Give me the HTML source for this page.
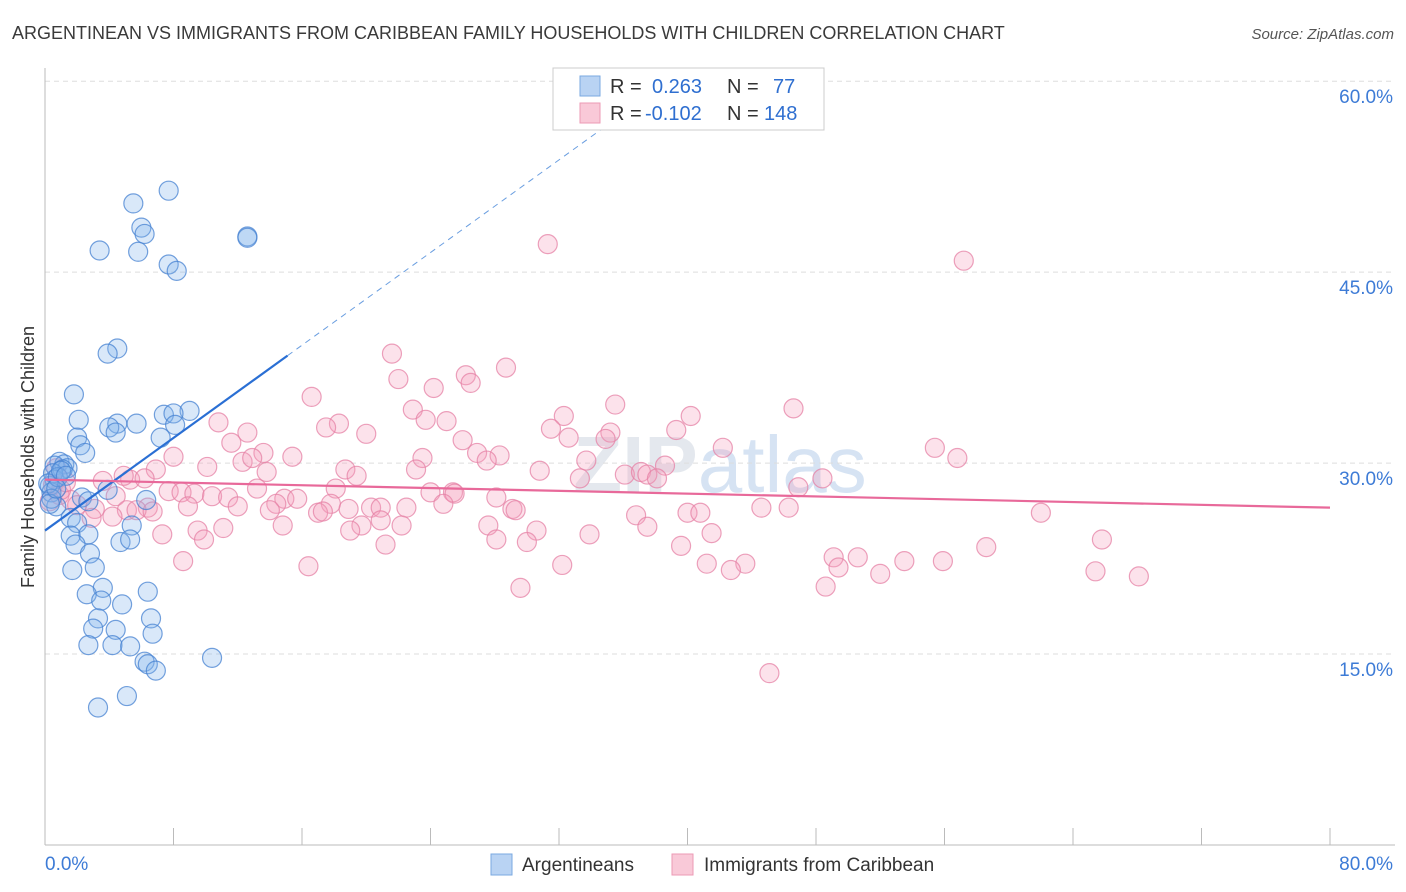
<!DOCTYPE html>
<html><head><meta charset="utf-8">
<style>
body{margin:0;background:#fff;font-family:"Liberation Sans",sans-serif;}
svg{display:block}
</style></head>
<body>
<svg id="chart" width="1406" height="892" xmlns="http://www.w3.org/2000/svg" font-family="Liberation Sans, sans-serif">
<text x="12" y="39" font-size="18" fill="#3a3a3a">ARGENTINEAN VS IMMIGRANTS FROM CARIBBEAN FAMILY HOUSEHOLDS WITH CHILDREN CORRELATION CHART</text>
<text x="1394" y="39" font-size="15" font-style="italic" fill="#555" text-anchor="end">Source: ZipAtlas.com</text>
<text x="720" y="492" font-size="80" fill="#e4e8ee" text-anchor="middle" font-weight="bold">ZIP<tspan fill="#d6e3f3" font-weight="normal">atlas</tspan></text>
<g id="grid"></g>
<g id="axes"></g>
<g id="pts"></g>
<g id="trends"></g>
<text transform="translate(34,457) rotate(-90)" font-size="18" fill="#333" text-anchor="middle">Family Households with Children</text>
<g>
<rect x="553" y="68" width="271" height="62" fill="#fff" stroke="#ccc"/>
<rect x="580" y="76" width="20" height="20" fill="#b9d3f3" stroke="#7aa8e0"/>
<rect x="580" y="103" width="20" height="20" fill="#f9c9d8" stroke="#ec9ab5"/>
<text x="610" y="93" font-size="20" fill="#333">R = <tspan fill="#2f6fd0" x="652">0.263</tspan><tspan x="727" fill="#333">N =</tspan><tspan x="773" fill="#2f6fd0">77</tspan></text>
<text x="610" y="120" font-size="20" fill="#333">R = <tspan fill="#2f6fd0" x="645">-0.102</tspan><tspan x="727" fill="#333">N =</tspan><tspan x="764" fill="#2f6fd0">148</tspan></text>
</g>
<g>
<rect x="491" y="854" width="21" height="21" fill="#b9d3f3" stroke="#7aa8e0"/>
<text x="522" y="871" font-size="19" fill="#333">Argentineans</text>
<rect x="672" y="854" width="21" height="21" fill="#f9c9d8" stroke="#ec9ab5"/>
<text x="704" y="871" font-size="19" fill="#333">Immigrants from Caribbean</text>
</g>
</svg>
<script>
const yTicks=[15,30,45,60];
const yTickLabels=["15.0%","30.0%","45.0%","60.0%"];
const xTickLabels=["0.0%","80.0%"];
const blueX=[7.7,5.5,6.0,6.2,12.6,12.6,3.4,5.8,7.7,8.2,4.5,3.9,1.8,9.0,7.4,8.0,2.1,4.5,5.7,4.0,8.1,4.4,2.0,7.2,2.2,2.5,0.9,1.2,0.6,1.4,1.1,0.6,0.3,0.4,3.9,2.3,2.7,6.3,0.7,1.6,2.0,5.4,1.6,2.7,1.9,4.7,5.3,2.8,3.1,1.7,3.6,2.6,6.4,3.5,4.8,3.3,6.6,3.0,4.4,6.7,2.7,4.2,5.3,10.4,6.2,6.4,6.9,5.1,3.3,0.5,0.2,0.8,1.0,0.4,0.3,1.3,0.7];
const blueY=[51.4,50.4,48.5,48.0,47.8,47.7,46.7,46.6,45.6,45.1,39.0,38.6,35.4,34.1,33.8,33.9,33.4,33.1,33.1,32.8,33.0,32.4,32.0,32.0,31.4,30.8,30.1,29.9,29.8,29.6,29.5,28.7,28.2,27.7,27.9,27.3,27.0,27.1,26.6,25.7,25.3,25.1,24.3,24.4,23.6,23.8,24.0,22.9,21.8,21.6,20.2,19.7,19.9,19.2,18.9,17.8,17.8,17.0,16.9,16.6,15.7,15.7,15.6,14.7,14.4,14.2,13.7,11.7,10.8,29.2,28.4,28.9,29.4,27.2,26.8,29.0,28.0];
const pinkX=[31.3,57.2,21.6,28.7,22.0,26.2,26.5,24.2,16.6,22.9,35.5,46.6,32.3,40.2,23.7,25.0,10.8,18.3,17.5,31.5,12.6,20.0,39.3,35.2,32.6,34.9,26.0,11.6,42.2,55.4,26.9,13.6,8.0,15.4,28.3,23.5,27.5,56.8,12.3,12.9,33.7,10.1,18.7,23.1,30.8,38.6,6.9,13.8,19.4,36.1,37.1,37.5,38.1,48.4,3.6,5.3,6.2,4.9,33.3,46.9,13.2,18.1,7.7,8.5,4.4,9.3,10.4,11.4,14.9,15.7,24.0,25.4,25.5,28.1,0.9,1.6,14.4,17.8,8.9,12.0,6.4,18.9,20.3,20.9,22.5,24.8,29.1,29.3,5.1,5.7,6.7,14.0,17.0,17.3,3.1,4.2,36.8,40.0,40.8,44.6,46.3,62.0,2.9,20.9,14.8,19.7,22.2,27.6,37.5,11.1,9.5,19.0,30.6,7.3,41.5,9.9,33.9,28.1,30.0,21.2,39.6,58.6,65.8,49.1,50.6,8.6,53.5,55.9,41.2,43.6,42.7,49.4,32.2,16.4,52.0,65.4,68.1,29.6,48.6,45.1,0.5,1.0,0.3,1.3,2.0,0.7];
const pinkY=[47.2,45.9,38.6,37.5,36.6,36.9,36.3,35.9,35.2,34.2,34.6,34.3,33.7,33.7,33.4,33.3,33.2,33.1,32.8,32.7,32.4,32.3,32.6,32.4,32.0,31.9,31.8,31.6,31.2,31.2,30.8,30.8,30.5,30.5,30.6,30.4,30.2,30.4,30.1,30.4,30.2,29.7,29.5,29.5,29.4,29.8,29.5,29.3,29.0,29.1,29.3,29.1,28.8,28.8,28.6,28.7,28.8,29.0,28.8,28.1,28.0,28.0,27.8,27.7,27.4,27.6,27.4,27.3,27.2,27.2,27.7,27.7,27.6,27.3,27.5,27.1,26.8,26.8,26.6,26.6,26.5,26.4,26.5,26.5,26.5,26.8,26.4,26.3,26.3,26.3,26.2,26.3,26.1,26.2,26.4,25.8,25.9,26.1,26.1,26.5,26.5,26.1,25.7,25.5,25.1,25.1,25.1,25.1,25.0,24.9,24.7,24.7,24.7,24.4,24.5,24.0,24.4,24.0,23.8,23.6,23.5,23.4,24.0,22.6,22.6,22.3,22.3,22.3,22.1,22.1,21.6,21.8,22.0,21.9,21.3,21.5,21.1,20.2,20.3,13.5,28.3,27.9,27.0,28.5,26.7,29.6];
const blueTrend=[24.7,0.91]; // intercept, slope per %
const pinkTrend=[28.7,-0.0275];

const NS="http://www.w3.org/2000/svg";
const X0=45,X1=1330,Y0=845,PXY=12.73;
const sx=v=>X0+(v/80)*(X1-X0);
const sy=v=>Y0-v*PXY;
function mk(tag,attrs,parent){const e=document.createElementNS(NS,tag);for(const k in attrs)e.setAttribute(k,attrs[k]);parent.appendChild(e);return e;}
const grid=document.getElementById('grid'),axes=document.getElementById('axes'),pts=document.getElementById('pts'),tr=document.getElementById('trends');
yTicks.forEach((t,i)=>{
 const l=mk('line',{x1:X0,x2:1395,y1:sy(t),y2:sy(t),stroke:'#ddd','stroke-dasharray':'5,4'},grid);
 
 
 const tx=mk('text',{x:1393,y:sy(t)+22,'font-size':19,fill:'#3d7bd6','text-anchor':'end'},axes);
 tx.textContent=yTickLabels[i];
 
 
});
const ya=mk('line',{x1:X0,x2:X0,y1:68,y2:Y0,stroke:'#bbb'},axes);


const xa=mk('line',{x1:X0,x2:1395,y1:Y0,y2:Y0,stroke:'#bbb'},axes);


for(let i=1;i<=10;i++){
 const t=mk('line',{x1:sx(i*8),x2:sx(i*8),y1:828,y2:Y0,stroke:'#bbb'},axes);
 
 
}
[[0,'start',X0],[80,'end',1393]].forEach((d,i)=>{
 const tx=mk('text',{x:d[2],y:870,'font-size':19,fill:'#3d7bd6','text-anchor':d[1]},axes);
 tx.textContent=xTickLabels[i];
 
 
});
pinkX.forEach((v,i)=>{
 const c=mk('circle',{cx:sx(v),cy:sy(pinkY[i]),r:9.5,fill:'rgba(244,160,188,0.3)',stroke:'rgba(230,130,165,0.75)','stroke-width':1.2},pts);
 
 
});
blueX.forEach((v,i)=>{
 const c=mk('circle',{cx:sx(v),cy:sy(blueY[i]),r:9.5,fill:'rgba(130,180,235,0.3)',stroke:'rgba(70,130,210,0.75)','stroke-width':1.2},pts);
 
 
});
const bf=x=>blueTrend[0]+blueTrend[1]*x, pf=x=>pinkTrend[0]+pinkTrend[1]*x;
const b1=mk('line',{x1:sx(0),y1:sy(bf(0)),x2:sx(15.1),y2:sy(bf(15.1)),stroke:'#2a6fd4','stroke-width':2.2},tr);


const b2=mk('line',{x1:sx(15.1),y1:sy(bf(15.1)),x2:sx(36),y2:sy(bf(36)),stroke:'#6a9ee0','stroke-width':1,'stroke-dasharray':'6,5'},tr);


const p1=mk('line',{x1:sx(0),y1:sy(pf(0)),x2:sx(80),y2:sy(pf(80)),stroke:'#e8699a','stroke-width':2.2},tr);


</script>
</body></html>
